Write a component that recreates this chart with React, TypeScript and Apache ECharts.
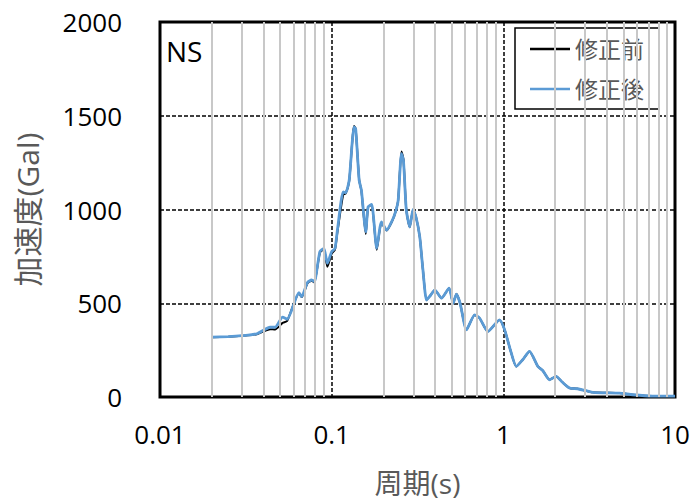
import React, { useEffect, useRef } from "react";
import * as echarts from "echarts";

// Response spectrum (NS component): period (s) vs. acceleration (Gal)
const periods = [
  0.02, 0.025, 0.03, 0.0366, 0.0438, 0.0468, 0.0518, 0.055, 0.0645, 0.0669,
  0.0722, 0.0765, 0.0792, 0.0854, 0.0901, 0.0944, 0.1, 0.1045, 0.108, 0.1167,
  0.1206, 0.1265, 0.1315, 0.1348, 0.138, 0.1446, 0.149, 0.158, 0.163, 0.171,
  0.183, 0.195, 0.209, 0.225, 0.236, 0.244, 0.255, 0.262, 0.272, 0.285,
  0.298, 0.31, 0.326, 0.34, 0.357, 0.375, 0.399, 0.436, 0.483, 0.51,
  0.533, 0.56, 0.61, 0.681, 0.728, 0.813, 0.95, 1.018, 1.1, 1.19,
  1.3, 1.42, 1.59, 1.7, 1.86, 2.03, 2.2, 2.43, 2.71, 3.32,
  4.74, 5.67, 7.38, 10,
];

const beforeCorrection = [
  318, 321, 326, 335, 362, 360, 395, 405, 552, 533,
  606, 620, 612, 770, 788, 695, 765, 785, 880, 1080,
  1085, 1152, 1350, 1445, 1432, 1158, 1100, 870, 1012, 1025,
  785, 930, 888, 938, 990, 1050, 1310, 1268, 1000, 905,
  1000, 960, 854, 680, 517, 540, 571, 527, 580, 500,
  549, 500, 358, 438, 420, 349, 411, 358, 250, 163,
  200, 243, 163, 140, 92, 110, 80, 48, 44, 25,
  21, 12, 5, 5,
];

const afterCorrection = [
  319, 322, 327, 337, 372, 372, 426, 415, 556, 535,
  610, 624, 615, 775, 792, 713, 775, 792, 890, 1094,
  1089, 1156, 1350, 1440, 1430, 1156, 1103, 881, 1014, 1027,
  793, 934, 890, 940, 990, 1049, 1298, 1260, 1000, 907,
  1000, 960, 854, 680, 517, 540, 571, 527, 580, 500,
  549, 500, 358, 438, 420, 349, 411, 358, 250, 163,
  200, 243, 163, 140, 92, 110, 80, 48, 44, 25,
  21, 12, 5, 5,
];

const seriesNames = ["修正前", "修正後"];
const yTicks = { min: 0, max: 2000, interval: 500 };
const decades = [0.01, 0.1, 1];
const minorSteps = [2, 3, 4, 5, 6, 7, 8, 9];

const FONT = "'Open Sans', 'Noto Sans CJK JP', sans-serif";

export default function App() {
  const ref = useRef<HTMLDivElement>(null);

  useEffect(() => {
    if (!ref.current) return;
    document.body.style.margin = "0";
    const chart = echarts.init(ref.current, undefined, { renderer: "svg" });

    const minorValues: number[] = [];
    decades.forEach((d) =>
      minorSteps.forEach((m) => minorValues.push(Number((d * m).toPrecision(3))))
    );

    const toPairs = (vals: number[]) => periods.map((p, i) => [p, vals[i]]);

    chart.setOption({
      animation: false,
      backgroundColor: "#ffffff",
      textStyle: { fontFamily: FONT },
      grid: {
        left: 160,
        right: 22,
        top: 22,
        bottom: 105,
        outerBoundsMode: "none",
        containLabel: false,
        show: true,
        borderColor: "#000",
        borderWidth: 3,
        backgroundColor: "#fff",
      },
      legend: {
        data: seriesNames,
        orient: "vertical",
        left: 515,
        top: 28,
        padding: [8, 15, 7, 15],
        itemGap: 14,
        itemWidth: 40,
        itemHeight: 2.5,
        icon: "rect",
        backgroundColor: "#fff",
        borderColor: "#000",
        borderWidth: 1.5,
        borderRadius: 0,
        textStyle: { fontSize: 23, color: "#595959", lineHeight: 26, fontFamily: FONT },
      },
      graphic: [
        {
          type: "text",
          x: 166,
          y: 51,
          style: {
            text: "NS",
            fontSize: 28,
            fill: "#000",
            fontFamily: FONT,
            verticalAlign: "middle",
          },
          z: 10,
        },
      ],
      xAxis: {
        type: "log",
        logBase: 10,
        min: 0.01,
        max: 10,
        name: "周期(s)",
        nameLocation: "middle",
        nameGap: 72,
        nameTextStyle: { fontSize: 28, color: "#595959", fontFamily: FONT },
        axisLine: { show: false },
        axisTick: { show: false },
        axisLabel: {
          fontSize: 26,
          color: "#000",
          margin: 24,
          fontFamily: FONT,
          formatter: (v: number) => String(Number(v.toPrecision(3))),
        },
        splitLine: {
          show: true,
          lineStyle: { color: "#000", width: 1.5, type: [4, 2] },
        },
      },
      yAxis: {
        type: "value",
        min: yTicks.min,
        max: yTicks.max,
        interval: yTicks.interval,
        name: "加速度(Gal)",
        nameLocation: "middle",
        nameGap: 118,
        nameTextStyle: { fontSize: 30, color: "#595959", fontFamily: FONT },
        axisLine: { show: false },
        axisTick: { show: false },
        axisLabel: {
          fontSize: 26,
          color: "#000",
          margin: 38,
          fontFamily: FONT,
          formatter: (v: number) => String(v),
        },
        splitLine: {
          show: true,
          lineStyle: { color: "#000", width: 1.5, type: [4, 2] },
        },
      },
      series: [
        {
          name: "minor-grid",
          type: "line",
          data: [],
          silent: true,
          z: 0,
          markLine: {
            silent: true,
            symbol: "none",
            label: { show: false },
            lineStyle: { color: "#c8c8c8", width: 2, type: "solid" },
            data: minorValues.map((v) => ({ xAxis: v })),
          },
        },
        {
          name: seriesNames[0],
          type: "line",
          data: toPairs(beforeCorrection),
          showSymbol: false,
          smooth: 0.2,
          color: "#000",
          lineStyle: { color: "#000", width: 2 },
          z: 3,
        },
        {
          name: seriesNames[1],
          type: "line",
          data: toPairs(afterCorrection),
          showSymbol: false,
          smooth: 0.2,
          color: "#5b9bd5",
          lineStyle: { color: "#5b9bd5", width: 2.8 },
          z: 4,
        },
      ],
    });

    return () => chart.dispose();
  }, []);

  return <div ref={ref} style={{ width: 697, height: 502 }} />;
}
